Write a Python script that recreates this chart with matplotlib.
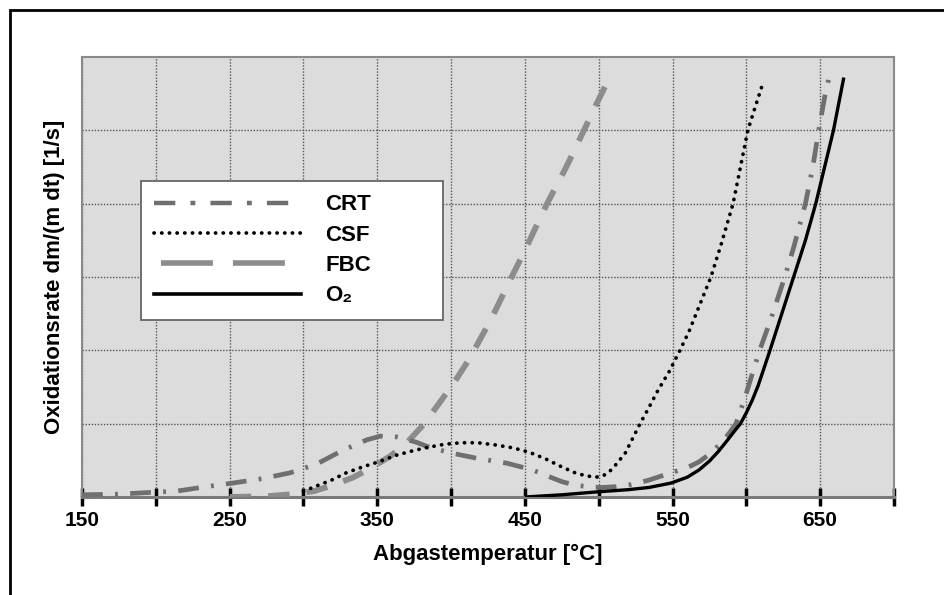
import numpy as np
import matplotlib
matplotlib.use("Agg")
import matplotlib.pyplot as plt
from matplotlib.lines import Line2D
from matplotlib.patches import Rectangle

plt.rcParams['font.family'] = ['Liberation Sans', 'DejaVu Sans']
plt.rcParams['font.weight'] = 'bold'

# values (temperature in degC, rate in grid units)
crt_T = [150, 176, 194, 214, 234, 252, 272, 291, 309, 326, 343, 352, 363, 376, 385,
         400, 417, 438, 455, 466, 475, 484, 493, 502, 511, 522, 534, 549, 560, 568,
         576, 582, 588, 593, 599, 604, 609, 617, 626, 632, 640, 645, 649, 653, 656]
crt_v = [0.03, 0.04, 0.06, 0.08, 0.14, 0.19, 0.25, 0.33, 0.45, 0.63, 0.78, 0.83, 0.82,
         0.75, 0.68, 0.60, 0.53, 0.46, 0.37, 0.28, 0.21, 0.16, 0.14, 0.13, 0.14, 0.17,
         0.23, 0.33, 0.40, 0.48, 0.60, 0.72, 0.86, 1.00, 1.35, 1.68, 2.00, 2.45, 3.00,
         3.40, 4.00, 4.50, 5.00, 5.45, 5.72]

csf_T = [300, 310, 319, 329, 340, 351, 363, 374, 385, 396, 407, 418, 430, 442, 453,
         464, 475, 484, 491, 498, 503, 507, 512, 518, 523, 528, 534, 540, 548, 555,
         561, 566, 571, 576, 583, 591, 596, 601, 606, 611]
csf_v = [0.08, 0.16, 0.23, 0.33, 0.41, 0.48, 0.57, 0.63, 0.68, 0.72, 0.74, 0.74, 0.71,
         0.67, 0.61, 0.52, 0.41, 0.33, 0.29, 0.27, 0.29, 0.34, 0.45, 0.60, 0.80, 1.00,
         1.22, 1.45, 1.72, 2.00, 2.25, 2.50, 2.75, 3.00, 3.45, 4.00, 4.50, 5.00, 5.32,
         5.63]

fbc_T = [250, 275, 293, 307, 320, 334, 347, 359, 370, 381, 392, 402, 412, 427, 441,
         448, 465, 478, 490, 499, 508]
fbc_v = [0.0, 0.01, 0.04, 0.08, 0.16, 0.27, 0.41, 0.56, 0.74, 0.98, 1.28, 1.56, 1.87,
         2.42, 3.00, 3.28, 4.00, 4.50, 5.00, 5.38, 5.75]

o2_T = [450, 475, 499, 520, 534, 549, 560, 568, 575, 581, 587, 592, 596, 600, 604,
        608, 612, 616, 624, 632, 640, 647, 653, 659, 666]
o2_v = [0.0, 0.03, 0.07, 0.10, 0.13, 0.19, 0.27, 0.37, 0.49, 0.62, 0.77, 0.90, 1.00,
        1.15, 1.32, 1.52, 1.76, 2.00, 2.50, 3.00, 3.50, 4.00, 4.50, 5.00, 5.72]

labels = ['CRT', 'CSF', 'FBC', 'O₂']
x_ticks = list(range(150, 701, 50))
x_ticklabels = ['150', '', '250', '', '350', '', '450', '', '550', '', '650', '']

fig = plt.figure(figsize=(9.44, 5.95), dpi=100)
ax = fig.add_axes([82 / 944, 98 / 595, 812 / 944, 440 / 595])
ax.set_facecolor('#dcdcdc')

crt_style = dict(color='#6f6f6f', lw=3.4, dashes=[4.4, 2.6, 0.6, 2.6], dash_capstyle='butt')
csf_style = dict(color='black', lw=2.7, dashes=[0.05, 2.0], dash_capstyle='round')
fbc_style = dict(color='#8c8c8c', lw=4.2, dashes=[3.7, 2.9], dash_capstyle='butt')
o2_style = dict(color='black', lw=2.4, solid_capstyle='butt')

ax.plot(crt_T, crt_v, **crt_style, zorder=4)
ax.plot(csf_T, csf_v, **csf_style, zorder=5)
ax.plot(fbc_T, fbc_v, **fbc_style, zorder=3)
ax.plot(o2_T, o2_v, **o2_style, zorder=6)

ax.set_xlim(150, 700)
ax.set_ylim(0, 6)
ax.set_xticks(x_ticks)
ax.set_xticklabels(x_ticklabels, fontsize=15, fontweight='bold')
ax.set_yticks([1, 2, 3, 4, 5])
ax.tick_params(axis='y', length=0, labelleft=False)
ax.tick_params(axis='x', direction='inout', length=13.5, width=2.5, color='black', pad=3)
ax.grid(True, linestyle=(0, (1, 1.2)), color='#555555', lw=1.0)
ax.set_axisbelow(True)

for s in ['left', 'top', 'right']:
    ax.spines[s].set_color('#8a8a8a')
    ax.spines[s].set_linewidth(1.5)
ax.spines['bottom'].set_color('#7a7a7a')
ax.spines['bottom'].set_linewidth(2.2)

ax.set_xlabel('Abgastemperatur [°C]', fontsize=16, fontweight='bold', labelpad=10)
ax.set_ylabel('Oxidationsrate dm/(m dt) [1/s]', fontsize=16, fontweight='bold', labelpad=12)

# legend proxies (the legend handles use longer dashes than the curves)
handles = [
    Line2D([], [], color='#6f6f6f', lw=3.2, dashes=[4.8, 3.4, 1.1, 3.4]),
    Line2D([], [], color='black', lw=2.7, dashes=[0.05, 2.0], dash_capstyle='round'),
    Line2D([], [], color='#8c8c8c', lw=4.0, linestyle=(11.7, (9.35, 3.6))),
    Line2D([], [], color='black', lw=2.6),
]
leg = ax.legend(handles, labels, loc='upper left',
                bbox_to_anchor=(59 / 812, 316 / 440, 302 / 812, 0.0),
                mode='expand', fontsize=16, handlelength=6.6, handletextpad=1.1,
                labelspacing=0.42, borderpad=0.6, fancybox=False, framealpha=1.0,
                edgecolor='#666666', borderaxespad=0.0)
leg.get_frame().set_linewidth(1.3)
for t in leg.get_texts():
    t.set_fontweight('bold')

# outer frame of the figure (only the left and top edges are visible)
fig.add_artist(Rectangle((9.5 / 944, -0.2), 1.5, (595 - 9.5) / 595 + 0.2,
                         fill=False, lw=2.0, edgecolor='black',
                         transform=fig.transFigure, clip_on=False))

fig.savefig('out.png', dpi=100)
